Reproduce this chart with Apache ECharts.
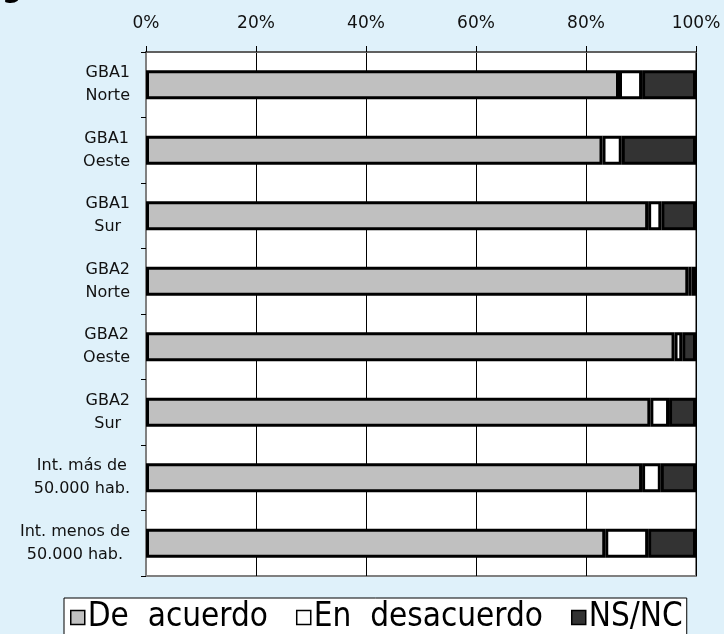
<!DOCTYPE html>
<html>
<head>
<meta charset="utf-8">
<script src="https://cdn.jsdelivr.net/npm/echarts@6/dist/echarts.min.js"></script>
<style>
html,body{margin:0;padding:0;background:#dff1fa;}
#c{width:724px;height:634px;}
</style>
</head>
<body>
<div id="c"></div>
<script>
const categories = ["GBA1\nNorte","GBA1\nOeste","GBA1\nSur","GBA2\nNorte","GBA2\nOeste","GBA2\nSur","Int. más de\n50.000 hab.","Int. menos de\n50.000 hab."];
const deAcuerdo = [86.0, 83.0, 91.3, 98.6, 96.1, 91.7, 90.2, 83.5];
const enDesacuerdo = [4.2, 3.5, 2.4, 0.6, 1.4, 3.4, 3.4, 7.8];
const nsnc = [9.8, 13.5, 6.3, 0.8, 2.5, 4.9, 6.4, 8.7];
const seriesNames = ["De  acuerdo", "En  desacuerdo", "NS/NC"];
const tickLabels = ["0%","20%","40%","60%","80%","100%"];

const FONT = "DejaVu Sans";
const chart = echarts.init(document.getElementById('c'), null, {renderer:'canvas'});
const barBase = {type:'bar', stack:'total', barWidth:29};
const colors = ['#c0c0c0','#ffffff','#333333'];
const data = [deAcuerdo, enDesacuerdo, nsnc];

chart.setOption({
  backgroundColor:'#dff1fa',
  animation:false,
  graphic:[{type:'text', left:2, top:-24, style:{text:'g', font:'bold 28px "DejaVu Sans"', fill:'#000'}}],
  grid:{left:146, right:28, top:52, bottom:58, show:true, backgroundColor:'#ffffff', borderColor:'#808080', borderWidth:2},
  legend:{
    left:64, top:598, itemWidth:14, itemHeight:14, itemGap:28,
    backgroundColor:'#ffffff', borderColor:'#000', borderWidth:1, borderRadius:0,
    padding:[3,4,10,6],
    textStyle:{fontFamily:'"DejaVu Sans Condensed", "DejaVu Sans"', fontSize:33, color:'#000', padding:[0,0,0,-2]},
    data: seriesNames.map((n,i)=>({name:n, icon:'rect', itemStyle:{color:colors[i], borderColor:'#000', borderWidth:1.5}}))
  },
  xAxis:{
    type:'value', position:'top', min:0, max:100, interval:20,
    axisLine:{show:true, lineStyle:{color:'#606060', width:2}},
    axisTick:{show:true, length:6, lineStyle:{color:'#000', width:1}},
    splitLine:{show:true, lineStyle:{color:'#000', width:1}},
    axisLabel:{fontFamily:FONT, fontSize:17, color:'#111', margin:20,
      formatter:(v)=>tickLabels[Math.round(v/20)]}
  },
  yAxis:{
    type:'category', inverse:true, data:categories,
    axisLine:{show:true, lineStyle:{color:'#808080', width:2}},
    axisTick:{show:true, length:5, lineStyle:{color:'#000', width:1}},
    axisLabel:{fontFamily:FONT, fontSize:16, color:'#111', margin:16, align:'right', lineHeight:23,
      formatter:(v)=>v.split('\n').map(s=>'{c|'+s+'}').join('\n'),
      rich:{c:{fontFamily:FONT, fontSize:16, color:'#111', align:'center', lineHeight:23}}}
  },
  series: seriesNames.map((n,i)=>Object.assign({}, barBase, {
    name:n, data:data[i],
    itemStyle:{color:colors[i], borderColor:'#000', borderWidth:3}
  }))
});
</script>
</body>
</html>
